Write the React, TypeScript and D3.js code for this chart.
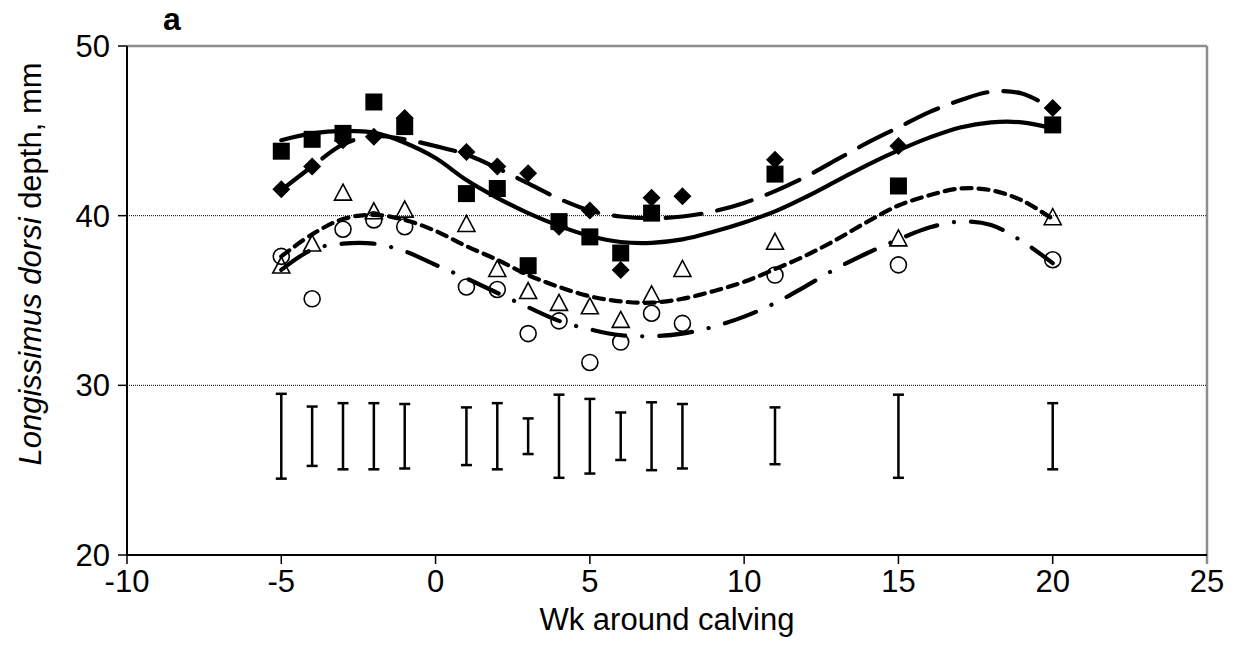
import * as d3 from "d3";

// weeks around calving with observations
const weeks = [-5, -4, -3, -2, -1, 1, 2, 3, 4, 5, 6, 7, 8, 11, 15, 20];

// group means (null = not shown)
const squares = [43.8, 44.5, 44.85, 46.7, 45.25, 41.3, 41.6, 37.05, 39.65, 38.75, 37.8, 40.15, null, 42.45, 41.75, 45.35];
const diamonds = [41.55, 42.9, 44.45, 44.65, 45.75, 43.75, 42.9, 42.5, 39.35, 40.3, 36.8, 41.05, 41.15, 43.3, 44.1, 46.35];
const triangles = [37.0, 38.3, 41.3, 40.2, 40.3, 39.45, 36.8, 35.5, 34.8, 34.6, 33.8, 35.3, 36.8, 38.4, 38.6, 39.85];
const circles = [37.6, 35.1, 39.2, 39.75, 39.35, 35.8, 35.65, 33.05, 33.8, 31.35, 32.55, 34.25, 33.65, 36.5, 37.1, 37.4];

// SE bars (low / high)
const barLow = [24.5, 25.25, 25.05, 25.05, 25.1, 25.3, 25.05, 25.95, 24.55, 24.8, 25.6, 25.0, 25.1, 25.35, 24.55, 25.05];
const barHigh = [29.5, 28.75, 28.95, 28.95, 28.9, 28.7, 28.95, 28.05, 29.45, 29.2, 28.4, 29.0, 28.9, 28.7, 29.45, 28.95];

// fitted curves
const curveWeeks = [-5, -4, -3, -2, -1, 0, 1, 2, 3, 4, 5, 6, 7, 8, 9, 10, 11, 12, 13, 14, 15, 16, 17, 18, 19, 20];
const fitSquares = [44.45, 44.85, 45.0, 44.9, 44.3, 43.4, 42.1, 41.05, 40.15, 39.4, 38.8, 38.45, 38.4, 38.6, 39.05, 39.6, 40.25, 41.1, 42.05, 43.0, 43.85, 44.6, 45.2, 45.5, 45.5, 45.15];
const fitDiamonds = [41.5, 42.9, 44.2, 44.7, 44.5, 44.1, 43.6, 42.8, 41.9, 41.0, 40.3, 39.95, 39.85, 39.95, 40.25, 40.75, 41.45, 42.3, 43.3, 44.3, 45.2, 46.1, 46.8, 47.3, 47.2, 46.3];
const fitTriangles = [37.6, 38.9, 39.8, 40.05, 39.75, 39.1, 38.2, 37.4, 36.5, 35.8, 35.25, 34.95, 34.87, 35.1, 35.55, 36.1, 36.85, 37.65, 38.6, 39.65, 40.6, 41.2, 41.6, 41.5, 40.9, 39.8];
const fitCircles = [36.8, 38.0, 38.35, 38.35, 37.9, 37.1, 36.3, 35.45, 34.6, 33.8, 33.3, 32.95, 32.9, 33.05, 33.45, 34.05, 34.85, 35.85, 36.9, 37.8, 38.6, 39.3, 39.65, 39.45, 38.5, 37.2];

const xTicks = [-10, -5, 0, 5, 10, 15, 20, 25];
const yTicks = [20, 30, 40, 50];
const gridValues = [30, 40];

const W = 1243;
const H = 656;
const left = 127;
const right = 1207;
const top = 46;
const bottom = 555;
const font = "'Liberation Sans', Arial, sans-serif";
const fs = 31;

export default function App() {
  const x = d3.scaleLinear().domain([-10, 25]).range([left, right]);
  const y = d3.scaleLinear().domain([20, 50]).range([bottom, top]);

  const line = d3
    .line<[number, number]>()
    .x((d) => x(d[0]))
    .y((d) => y(d[1]))
    .curve(d3.curveCatmullRom);

  const fits = [
    { vals: fitSquares, dash: "none" },
    { vals: fitDiamonds, dash: "36 16" },
    { vals: fitTriangles, dash: "10 7" },
    { vals: fitCircles, dash: "33 17 0.1 17" },
  ];

  const pts = (vals: (number | null)[]) =>
    weeks.map((w, i) => [w, vals[i]] as [number, number | null]).filter((d) => d[1] != null) as [number, number][];

  return (
    <svg width={W} height={H} style={{ position: "absolute", left: 0, top: 0, background: "#fff" }}>
      {/* gridlines */}
      {gridValues.map((g) => (
        <line key={g} x1={left} x2={right} y1={y(g)} y2={y(g)} stroke="#000" strokeWidth={1} strokeDasharray="1 1" />
      ))}
      {/* frame */}
      <line x1={left} x2={right} y1={top} y2={top} stroke="#8c8c8c" strokeWidth={2.5} />
      <line x1={right} x2={right} y1={top} y2={bottom + 9} stroke="#8c8c8c" strokeWidth={2.5} />
      <line x1={left} x2={left} y1={top} y2={bottom} stroke="#000" strokeWidth={2} />
      <line x1={left} x2={right} y1={bottom} y2={bottom} stroke="#000" strokeWidth={2} />

      {/* y ticks */}
      {yTicks.map((t) => (
        <g key={t}>
          <line x1={left - 9} x2={left} y1={y(t)} y2={y(t)} stroke="#000" strokeWidth={1.5} />
          <text x={left - 17} y={y(t) + 11} textAnchor="end" fontFamily={font} fontSize={fs}>
            {t}
          </text>
        </g>
      ))}
      {/* x ticks */}
      {xTicks.map((t) => (
        <g key={t}>
          {t < 25 && <line x1={x(t)} x2={x(t)} y1={bottom} y2={bottom + 9} stroke="#000" strokeWidth={1.5} />}
          <text x={x(t)} y={592} textAnchor="middle" fontFamily={font} fontSize={fs}>
            {t}
          </text>
        </g>
      ))}

      <text x={(left + right) / 2} y={630} textAnchor="middle" fontFamily={font} fontSize={fs}>
        Wk around calving
      </text>
      <text transform="translate(41, 264) rotate(-90)" textAnchor="middle" fontFamily={font} fontSize={fs}>
        <tspan fontStyle="italic">Longissimus dorsi</tspan> depth, mm
      </text>
      <text x={163} y={30} fontFamily={font} fontSize={32} fontWeight="bold">
        a
      </text>

      {/* SE bars */}
      {weeks.map((w, i) => (
        <g key={w} stroke="#000" strokeWidth={2.5}>
          <line x1={x(w)} x2={x(w)} y1={y(barLow[i])} y2={y(barHigh[i])} />
          <line x1={x(w) - 5.5} x2={x(w) + 5.5} y1={y(barLow[i])} y2={y(barLow[i])} />
          <line x1={x(w) - 5.5} x2={x(w) + 5.5} y1={y(barHigh[i])} y2={y(barHigh[i])} />
        </g>
      ))}

      {/* markers */}
      {pts(circles).map(([w, v]) => (
        <circle key={"c" + w} cx={x(w)} cy={y(v)} r={8} fill="none" stroke="#000" strokeWidth={1.6} />
      ))}
      {pts(triangles).map(([w, v]) => (
        <path
          key={"t" + w}
          d={`M${x(w)},${y(v) - 9.5} L${x(w) + 8.5},${y(v) + 6.5} L${x(w) - 8.5},${y(v) + 6.5} Z`}
          fill="none"
          stroke="#000"
          strokeWidth={1.6}
        />
      ))}
      {pts(diamonds).map(([w, v]) => (
        <path
          key={"d" + w}
          d={`M${x(w)},${y(v) - 9} L${x(w) + 9},${y(v)} L${x(w)},${y(v) + 9} L${x(w) - 9},${y(v)} Z`}
          fill="#000"
        />
      ))}
      {pts(squares).map(([w, v]) => (
        <rect key={"s" + w} x={x(w) - 8.5} y={y(v) - 8.5} width={17} height={17} fill="#000" />
      ))}

      {/* fitted curves */}
      {fits.map((f, i) => (
        <path
          key={i}
          d={line(curveWeeks.map((w, j) => [w, f.vals[j]] as [number, number])) || ""}
          fill="none"
          stroke="#000"
          strokeWidth={4.2}
          strokeDasharray={f.dash}
          strokeLinecap="round"
        />
      ))}
    </svg>
  );
}
